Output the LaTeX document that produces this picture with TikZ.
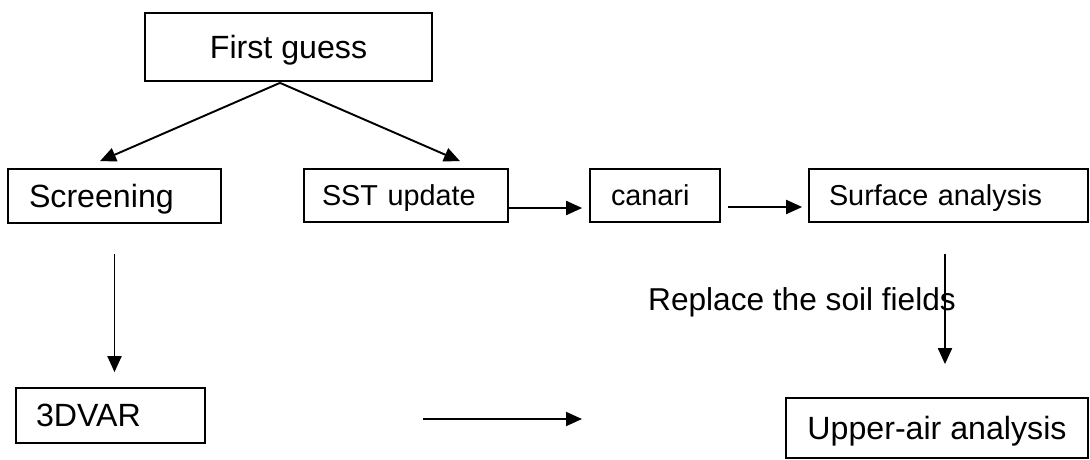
\documentclass[tikz,border=0pt]{standalone}
\usepackage{fontspec}
\setmainfont{Liberation Sans}
\usepackage{tikz}
\usetikzlibrary{arrows.meta,calc}

\begin{document}
\begin{tikzpicture}[x=0.02cm, y=-0.02cm,
    box/.style={draw, line width=1pt, inner sep=0pt,
      text height=13pt, text depth=0pt,
      font=\fontsize{18.3}{22}\selectfont},
    small/.style={text height=11.8pt, font=\fontsize{16.4}{20}\selectfont},
    lbox/.style n args={2}{box, text width=#1, inner xsep=#2, align=left},
    arr/.style={line width=1.1pt, -{Triangle[length=0.32cm, width=0.28cm]}}]
    \useasboundingbox (0,0) rectangle (1090,460);
    % boxes
    \node[box, minimum width=5.74cm, minimum height=1.36cm] (fg) at (288.5,47) {First guess};
    \node[lbox={3.42cm}{0.42cm}, minimum height=1.08cm] (scr) at (114.5,196) {Screening};
    \node[lbox={3.36cm}{0.36cm}, small, minimum height=1.06cm] (sst) at (406,195.5) {SST update};
    \node[lbox={1.76cm}{0.42cm}, small, minimum height=1.06cm] (can) at (655,195.5) {canari};
    \node[lbox={4.78cm}{0.40cm}, small, minimum height=1.06cm] (surf) at (948.5,195.5) {Surface analysis};
    \node[lbox={2.98cm}{0.40cm}, minimum height=1.10cm] (tdvar) at (110.5,415.5) {3DVAR};
    \node[box, minimum width=6.04cm, minimum height=1.2cm] (upper) at (937,428) {Upper-air analysis};
    \node[font=\fontsize{18}{22}\selectfont] (soil) at (802,302) {Replace the soil fields};
    \coordinate (m1) at (423,419);
    \coordinate (m2) at (582,419);
    % arrows
    \draw[arr] ($(fg.south)+(-8.5,1)$) -- ($(scr.north)+(-14.5,-7)$);
    \draw[arr] ($(fg.south)+(-8.5,1)$) -- ($(sst.north)+(54,-7)$);
    \draw[arr] ($(sst.east)+(0,12.5)$) -- ($(can.west)+(-7,12.5)$);
    \draw[arr] ($(can.east)+(7,11.5)$) -- ($(surf.west)+(-6,11.5)$);
    \draw[arr, shorten <=0.6cm, shorten >=0.3cm] (scr.south) -- (scr.south |- tdvar.north);
    \draw[arr] (m1) -- (m2);
    \draw[arr] ($(surf.south)+(-3.5,31)$) -- ($(upper.north)+(8,-33)$);
\end{tikzpicture}
\end{document}
